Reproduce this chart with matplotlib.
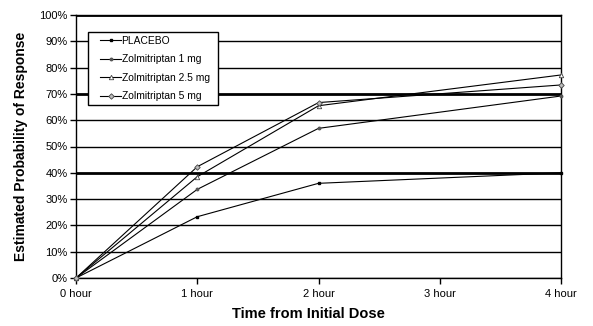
import matplotlib
matplotlib.use("Agg")
import matplotlib.pyplot as plt
from matplotlib.patches import Rectangle
from matplotlib.ticker import FixedLocator

plt.rcParams['font.family'] = ['Liberation Sans', 'DejaVu Sans']

# Time points (hours) and estimated response probabilities (%)
hours = [0, 1, 2, 4]
hour_labels = ["0 hour", "1 hour", "2 hour", "3 hour", "4 hour"]
placebo = [0, 23.3, 36.0, 40.0]
zol_1mg = [0, 33.7, 56.9, 69.2]
zol_25mg = [0, 38.5, 65.5, 77.2]
zol_5mg = [0, 42.3, 66.7, 73.4]
series_names = ["PLACEBO", "Zolmitriptan 1 mg", "Zolmitriptan 2.5 mg", "Zolmitriptan 5 mg"]
y_ticks = list(range(0, 101, 10))
bold_levels = [40, 70, 100]

W, H = 593, 326
fig = plt.figure(figsize=(W / 100, H / 100), dpi=100)
ax = fig.add_axes([76 / W, 48 / H, 485 / W, 263 / H])

# horizontal gridlines, with heavier reference lines
for lvl in y_ticks:
    lw = 2.0 if lvl in bold_levels else 1.0
    ax.axhline(lvl, color="black", linewidth=lw, zorder=1)

styles = [
    dict(marker="s", markersize=1.8, markerfacecolor="black", markeredgecolor="black"),
    dict(marker="o", markersize=1.8, markerfacecolor="#555555", markeredgecolor="#555555"),
    dict(marker="^", markersize=3.2, markerfacecolor="white", markeredgecolor="#444444", markeredgewidth=0.6),
    dict(marker="D", markersize=2.8, markerfacecolor="#bbbbbb", markeredgecolor="#444444", markeredgewidth=0.6),
]
for vals, name, st in zip([placebo, zol_1mg, zol_25mg, zol_5mg], series_names, styles):
    ax.plot(hours, vals, color="black", linewidth=0.8, label=name, zorder=3,
            clip_on=False, **st)

ax.set_xlim(0, 4)
ax.set_ylim(0, 100)
ax.xaxis.set_major_locator(FixedLocator(range(len(hour_labels))))
ax.set_xticklabels(hour_labels)
ax.set_yticks(y_ticks)
ax.set_yticklabels([f"{v}%" for v in y_ticks])
ax.tick_params(axis="both", direction="out", length=4, width=1, color="black",
               labelsize=8, pad=2)
ax.tick_params(axis="x", pad=4)
for sp in ax.spines.values():
    sp.set_color("black")
    sp.set_linewidth(1.0)

ax.set_xlabel("Time from Initial Dose", fontsize=10.5, fontweight="bold")
ax.xaxis.set_label_coords(0.48, -0.11)
ax.set_ylabel("Estimated Probability of Response", fontsize=10, fontweight="bold", labelpad=8)

# legend box drawn as a plain white rectangle, entries placed inside it
box = Rectangle((88 / W, 1 - 104.5 / H), 130 / W, 72 / H, transform=fig.transFigure,
                facecolor="white", edgecolor="black", linewidth=1.0, zorder=4)
fig.patches.append(box)
leg = fig.legend(*ax.get_legend_handles_labels(), loc="upper left",
                 bbox_to_anchor=(100 / W, 1 - 36 / H), bbox_transform=fig.transFigure,
                 fontsize=7.4, frameon=False, borderpad=0, borderaxespad=0,
                 labelspacing=0.82, handlelength=2.05, handletextpad=0.05)
leg.set_zorder(5)

fig.savefig("out.png", dpi=100)
